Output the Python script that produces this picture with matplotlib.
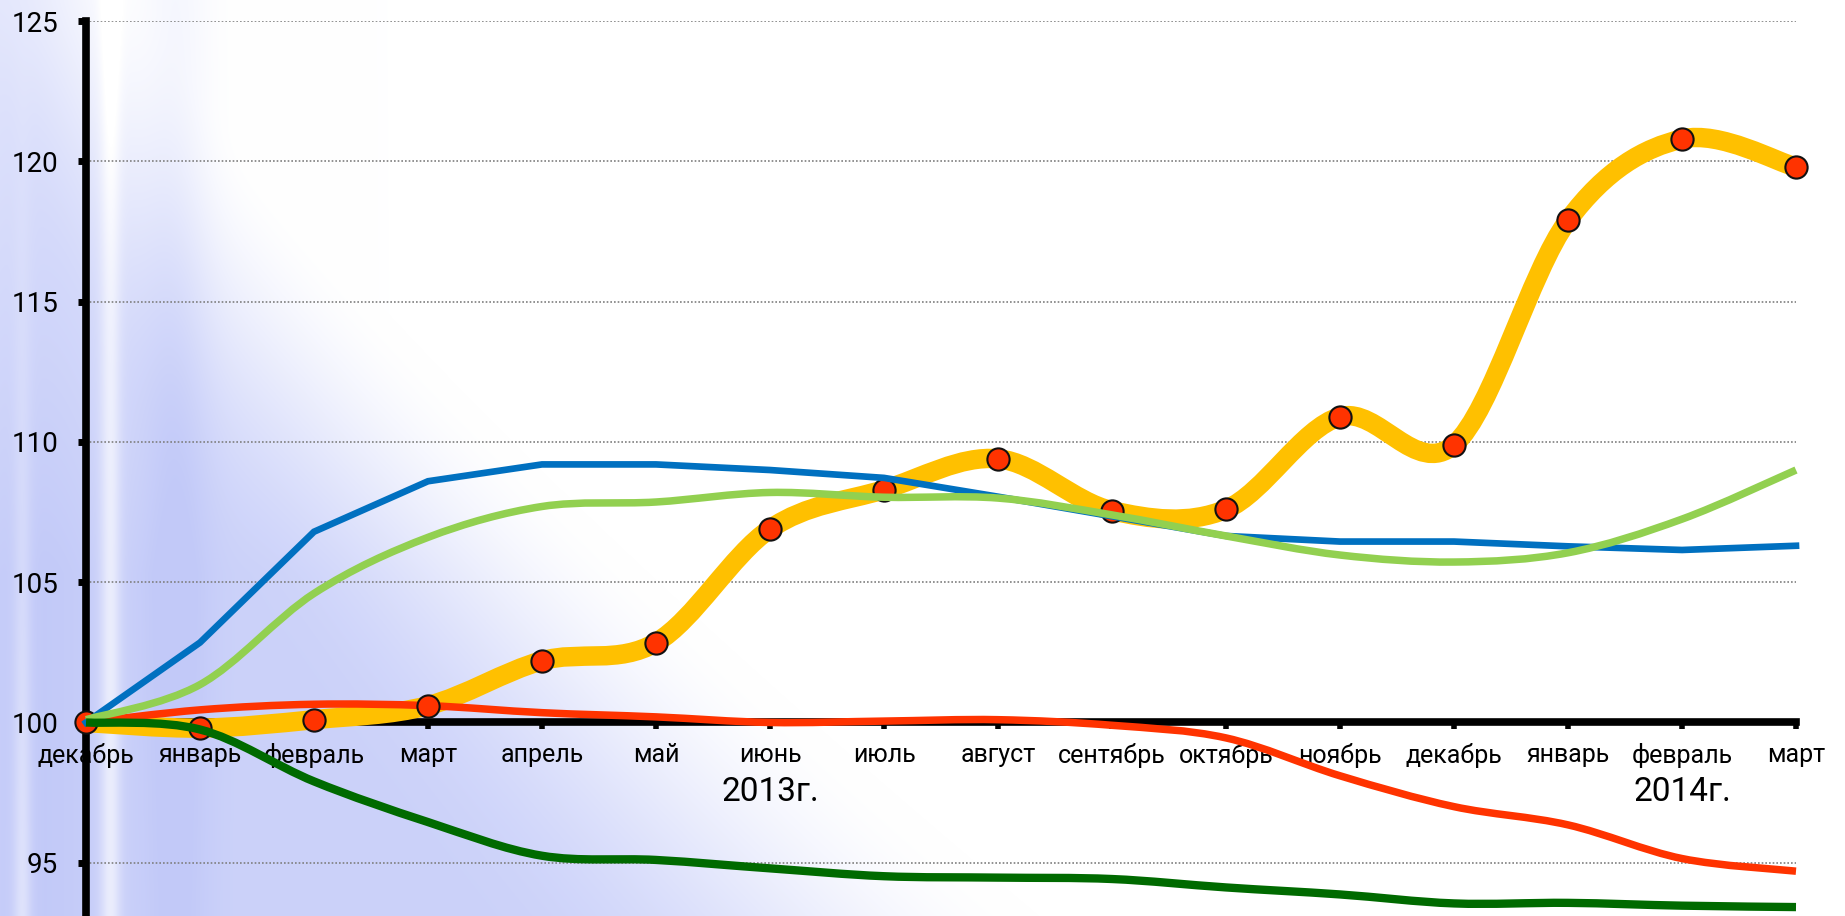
import numpy as np
import matplotlib
matplotlib.use('Agg')
import matplotlib.pyplot as plt
from matplotlib.path import Path
from matplotlib.patches import PathPatch

months = ['декабрь', 'январь', 'февраль', 'март', 'апрель', 'май', 'июнь', 'июль',
          'август', 'сентябрь', 'октябрь', 'ноябрь', 'декабрь', 'январь', 'февраль', 'март']
year_labels = ['2013г.', '2014г.']
year_positions = [6, 14]
yticks = [95, 100, 105, 110, 115, 120, 125]

yellow = [100.0, 99.8, 100.1, 100.6, 102.2, 102.85, 106.9, 108.3, 109.4, 107.55,
          107.6, 110.9, 109.9, 117.9, 120.8, 119.8]
blue = [100.0, 102.85, 106.8, 108.6, 109.2, 109.2, 109.0, 108.72, 108.05, 107.35,
        106.65, 106.45, 106.45, 106.28, 106.15, 106.3]
light_green = [100.1, 101.35, 104.6, 106.6, 107.7, 107.86, 108.2, 108.03, 108.0, 107.4,
               106.65, 105.97, 105.72, 106.05, 107.25, 109.0]
red = [100.0, 100.45, 100.65, 100.6, 100.35, 100.2, 100.0, 100.05, 100.1, 99.9,
       99.45, 98.1, 97.0, 96.35, 95.15, 94.7]
dark_green = [100.0, 99.75, 97.9, 96.45, 95.25, 95.1, 94.8, 94.52, 94.47, 94.42,
              94.12, 93.87, 93.55, 93.57, 93.47, 93.42]

W, H = 1845, 916
fig = plt.figure(figsize=(W / 100, H / 100), dpi=100)

# --- background (decorative blue haze on the left) ---
yy, xx = np.mgrid[0:H, 0:W].astype(float)
t = yy / H
bnd = 60 + 700 * t ** 1.3
fade = 180 + 380 * t
s = np.clip((bnd - xx) / fade + 0.5, 0, 1)
w = s * s * (3 - 2 * s)
w = 0.85 * w
w += 0.30 * np.exp(-((xx - 175) / 35) ** 2) * (1 - 0.4 * t)
w += 0.15 * np.exp(-((xx - 40) / 60) ** 2)
w -= 0.55 * np.exp(-((xx - 110) / 10) ** 2)
w -= 0.45 * np.exp(-((xx - 22) / 9) ** 2) * t
w *= (0.5 + 0.5 * np.clip(t * 1.6, 0, 1))
w = np.clip(w, 0, 1) * 0.9
base = np.array([188, 196, 248]) / 255.0
img = 1 - w[..., None] * (1 - base[None, None, :])
bg = fig.add_axes([0, 0, 1, 1], zorder=0)
bg.imshow(img, aspect='auto', extent=[0, 1, 0, 1], interpolation='bilinear')
bg.axis('off')

# --- main axes ---
left_px, right_px = 86, 1796
top_px = 21.2
ppu = 28.05
ymin = 100 - (H - 722.5) / ppu
ax = fig.add_axes([left_px / W, 0, (right_px - left_px) / W, 1 - top_px / H], zorder=1)
ax.set_facecolor('none')
ax.set_xlim(0, 15)
ax.set_ylim(ymin, 125)

fam = ['Liberation Sans Narrow', 'Roboto', 'DejaVu Sans']

ax.spines['top'].set_visible(False)
ax.spines['right'].set_visible(False)
ax.spines['bottom'].set_position(('data', 100))
ax.spines['left'].set_linewidth(5.5)
ax.spines['bottom'].set_linewidth(5.5)
ax.spines['left'].set_bounds(ymin, 125)

ax.set_yticks(yticks)
ax.set_yticklabels([str(v) for v in yticks], fontsize=20, family=fam)
ax.set_xticks(range(len(months)))
ax.set_xticklabels(months, fontsize=18, family=fam)
ax.tick_params(axis='y', direction='out', length=6, width=5, pad=14)
ax.tick_params(axis='x', direction='out', length=5, width=4, pad=10)

for v in yticks:
    if v != 100:
        ax.plot([0, 15], [v, v], color='#7f7f7f', lw=1.2, ls=(0, (1, 1.2)), zorder=1)


def smooth_path(xs, ys):
    pts = np.column_stack([xs, ys]).astype(float)
    n = len(pts)
    verts = [pts[0]]
    codes = [Path.MOVETO]
    for i in range(n - 1):
        p0 = pts[i - 1] if i > 0 else pts[i]
        p1 = pts[i]
        p2 = pts[i + 1]
        p3 = pts[i + 2] if i + 2 < n else pts[i + 1]
        c1 = p1 + (p2 - p0) / 6.0
        c2 = p2 - (p3 - p1) / 6.0
        verts += [c1, c2, p2]
        codes += [Path.CURVE4] * 3
    return Path(verts, codes)


x = np.arange(len(months))

def add_smooth(ys, color, lw, z):
    patch = PathPatch(smooth_path(x, ys), fill=False, edgecolor=color, lw=lw,
                      capstyle='butt', joinstyle='round', zorder=z, clip_on=False)
    ax.add_patch(patch)

add_smooth(yellow, '#FFC000', 14, 3)
add_smooth(red, '#FF3300', 5.4, 3.5)
ax.plot(x, yellow, 'o', ms=16, mfc='#FF3300', mec='#111111', mew=1.5, zorder=4, clip_on=False)
ax.plot(x, blue, color='#0070C0', lw=4.8, solid_joinstyle='miter', zorder=5, clip_on=False)
add_smooth(light_green, '#92D050', 5.4, 6)
add_smooth(dark_green, '#006A00', 6, 7)

for pos, lab in zip(year_positions, year_labels):
    ax.text(pos, 100 - (792 - 722.5) / ppu, lab, ha='center', va='center',
            fontsize=24, family=fam, zorder=8)

fig.savefig('out.png', dpi=100)
